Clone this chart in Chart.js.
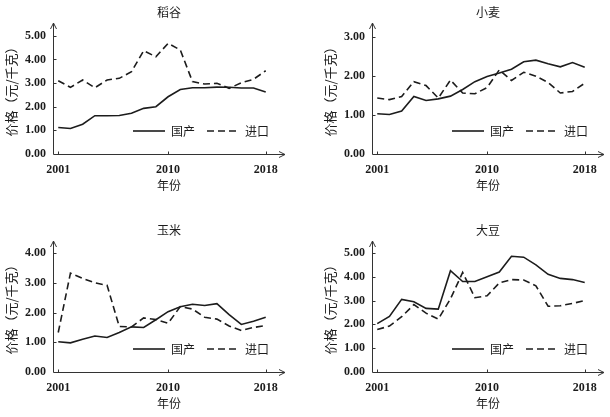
<!DOCTYPE html>
<html><head><meta charset="utf-8">
<script src="https://cdn.jsdelivr.net/npm/chart.js@4.4.1/dist/chart.umd.min.js"></script>
<style>
html,body{margin:0;padding:0;background:#fff;}
body{width:610px;height:417px;position:relative;overflow:hidden;}
canvas{position:absolute;}
</style></head><body>
<canvas id="c1" width="291" height="199" style="left:0px;top:0px"></canvas>
<canvas id="c2" width="291" height="199" style="left:319px;top:0px"></canvas>
<canvas id="c3" width="291" height="199" style="left:0px;top:218px"></canvas>
<canvas id="c4" width="291" height="199" style="left:319px;top:218px"></canvas>
<script>
// ---- data ----
const years = [2001,2002,2003,2004,2005,2006,2007,2008,2009,2010,2011,2012,2013,2014,2015,2016,2017,2018];
const xTickYears = [2001, 2010, 2018];
const seriesNames = ['国产', '进口'];
const cropTitles = ['稻谷', '小麦', '玉米', '大豆'];
const yAxisTitle = '价格（元/千克）';
const xAxisTitle = '年份';

const riceDomestic = [1.12,1.08,1.26,1.62,1.62,1.63,1.72,1.93,2.00,2.42,2.73,2.80,2.80,2.83,2.82,2.79,2.79,2.62];
const riceImport   = [3.10,2.82,3.13,2.80,3.13,3.20,3.48,4.37,4.11,4.68,4.40,3.06,2.96,2.99,2.78,3.01,3.16,3.52];
const wheatDomestic = [1.03,1.01,1.10,1.47,1.37,1.41,1.48,1.65,1.85,1.98,2.07,2.17,2.36,2.40,2.31,2.23,2.34,2.22];
const wheatImport   = [1.43,1.39,1.47,1.85,1.75,1.43,1.89,1.56,1.54,1.70,2.15,1.88,2.09,1.99,1.83,1.56,1.60,1.81];
const cornDomestic = [1.02,0.98,1.10,1.21,1.16,1.33,1.52,1.50,1.76,2.03,2.20,2.28,2.24,2.30,1.93,1.60,1.71,1.84];
const cornImport   = [1.33,3.33,3.15,3.00,2.92,1.53,1.52,1.82,1.77,1.64,2.20,2.12,1.84,1.78,1.55,1.40,1.50,1.56];
const soyDomestic = [2.03,2.33,3.05,2.95,2.67,2.64,4.25,3.80,3.80,4.00,4.20,4.86,4.82,4.50,4.10,3.93,3.88,3.76];
const soyImport   = [1.78,1.93,2.32,2.83,2.47,2.22,3.07,4.18,3.12,3.20,3.74,3.88,3.86,3.62,2.76,2.78,2.88,3.00];

const riceYTicks  = [0,1,2,3,4,5];
const wheatYTicks = [0,1,2,3];
const cornYTicks  = [0,1,2,3,4];
const soyYTicks   = [0,1,2,3,4,5];

// ---- drawing ----
const CJK = '"Noto Sans CJK SC", "Noto Sans", sans-serif';
const NUM = '"Liberation Serif", "DejaVu Serif", serif';
const INK = '#1c1c1c';

const axisPlugin = {
  id: 'arrowAxes',
  beforeDatasetsDraw(chart) {
    const {ctx, chartArea: a, scales} = chart;
    const xs = scales.x, ys = scales.y;
    const L = Math.round(a.left) + 0.5, B = Math.round(a.bottom) + 0.5;
    const T = a.top, R = a.right;
    ctx.save();
    ctx.strokeStyle = '#333';
    ctx.lineWidth = 1;
    ctx.beginPath();
    ctx.moveTo(L, B); ctx.lineTo(L, T);
    ctx.moveTo(L, B); ctx.lineTo(R, B);
    ctx.moveTo(L - 3, T + 6); ctx.lineTo(L, T); ctx.lineTo(L + 3, T + 6);
    ctx.moveTo(R - 6, B - 3); ctx.lineTo(R, B); ctx.lineTo(R - 6, B + 3);
    xs.ticks.forEach(t => {
      const px = Math.round(xs.getPixelForValue(t.value)) + 0.5;
      ctx.moveTo(px, B); ctx.lineTo(px, B - 3);
    });
    ys.ticks.forEach(t => {
      if (t.value === 0) return;
      const py = Math.round(ys.getPixelForValue(t.value)) + 0.5;
      ctx.moveTo(L, py); ctx.lineTo(L + 3, py);
    });
    ctx.stroke();
    ctx.restore();
  }
};

const legendInside = {
  id: 'legendInside',
  beforeLayout(chart) {
    const lg = chart.legend;
    if (lg && !lg.__patched) {
      const fit = lg.fit;
      lg.fit = function () { fit.call(this); this.height = 0; };
      lg.__patched = true;
    }
  },
  afterLayout(chart, args, opts) {
    const lg = chart.legend, a = chart.chartArea;
    lg.left = a.left + opts.dx; lg.right = lg.left + 230; lg.width = 230;
    lg.top = a.top + opts.dy; lg.bottom = lg.top + 40; lg.height = 40;
  }
};

function legendLabels(chart) {
  const items = Chart.defaults.plugins.legend.labels.generateLabels(chart);
  items.forEach(it => {
    const ds = chart.data.datasets[it.datasetIndex];
    it.lineDash = ds.borderDash || [];
    it.lineWidth = ds.borderWidth;
    it.strokeStyle = ds.borderColor;
    it.fillStyle = ds.borderColor;
  });
  return items;
}

function makeChart(id, title, domestic, imported, yTicks, yMax) {
  const xMin = 2000.57, xMax = 2019.58;
  return new Chart(document.getElementById(id), {
    type: 'line',
    data: {
      datasets: [
        { label: seriesNames[0], data: years.map((yr, i) => ({x: yr, y: domestic[i]})),
          xAxisID: 'x', yAxisID: 'y', borderColor: INK, backgroundColor: INK, borderWidth: 1.6,
          pointRadius: 0, fill: false, tension: 0 },
        { label: seriesNames[1], data: years.map((yr, i) => ({x: yr, y: imported[i]})),
          xAxisID: 'x', yAxisID: 'y', borderColor: INK, backgroundColor: INK, borderWidth: 1.6,
          borderDash: [7, 4], pointRadius: 0, fill: false, tension: 0 }
      ]
    },
    options: {
      responsive: false, animation: false, devicePixelRatio: 1,
      layout: { padding: { left: 0, right: 6, top: 0, bottom: 0 } },
      plugins: {
        legend: { display: true, position: 'bottom', align: 'start',
          labels: { usePointStyle: true, pointStyle: 'line', pointStyleWidth: 32, padding: 12,
                    color: INK, font: { family: CJK, size: 12 }, generateLabels: legendLabels } },
        tooltip: { enabled: false },
        legendInside: { dx: 68, dy: 90 }
      },
      scales: {
        x: {
          type: 'linear', position: 'bottom', min: xMin, max: xMax,
          grid: { display: false, drawTicks: false }, border: { display: false },
          afterBuildTicks: s => { s.ticks = xTickYears.map(v => ({ value: v })); },
          ticks: { padding: 9, color: INK, autoSkip: false, maxRotation: 0,
                   font: { family: NUM, size: 12, weight: 'bold' }, callback: v => String(v) },
          title: { display: true, text: xAxisTitle, color: INK, font: { family: CJK, size: 12 },
                   padding: { top: 0, bottom: 6 } },
          afterFit: s => { s.height = 45; }
        },
        xt: {
          type: 'linear', position: 'top', min: xMin, max: xMax,
          grid: { display: false, drawTicks: false }, border: { display: false },
          ticks: { display: false },
          title: { display: true, text: title, color: INK, font: { family: CJK, size: 12 },
                   padding: { top: 5, bottom: 0 } },
          afterFit: s => { s.height = 23; }
        },
        y: {
          type: 'linear', position: 'left', min: 0, max: yMax,
          grid: { display: false, drawTicks: false }, border: { display: false },
          afterBuildTicks: s => { s.ticks = yTicks.map(v => ({ value: v })); },
          ticks: { padding: 7, color: INK, font: { family: NUM, size: 12, weight: 'bold' },
                   callback: v => Number(v).toFixed(2) },
          title: { display: true, text: yAxisTitle, color: INK, font: { family: CJK, size: 13 },
                   padding: { top: 3, bottom: 0 } },
          afterFit: s => { s.width = 53; }
        }
      }
    },
    plugins: [axisPlugin, legendInside]
  });
}

makeChart('c1', cropTitles[0], riceDomestic, riceImport, riceYTicks, 5.54);
makeChart('c2', cropTitles[1], wheatDomestic, wheatImport, wheatYTicks, 3.35);
makeChart('c3', cropTitles[2], cornDomestic, cornImport, cornYTicks, 4.41);
makeChart('c4', cropTitles[3], soyDomestic, soyImport, soyYTicks, 5.5);
</script>
</body></html>
